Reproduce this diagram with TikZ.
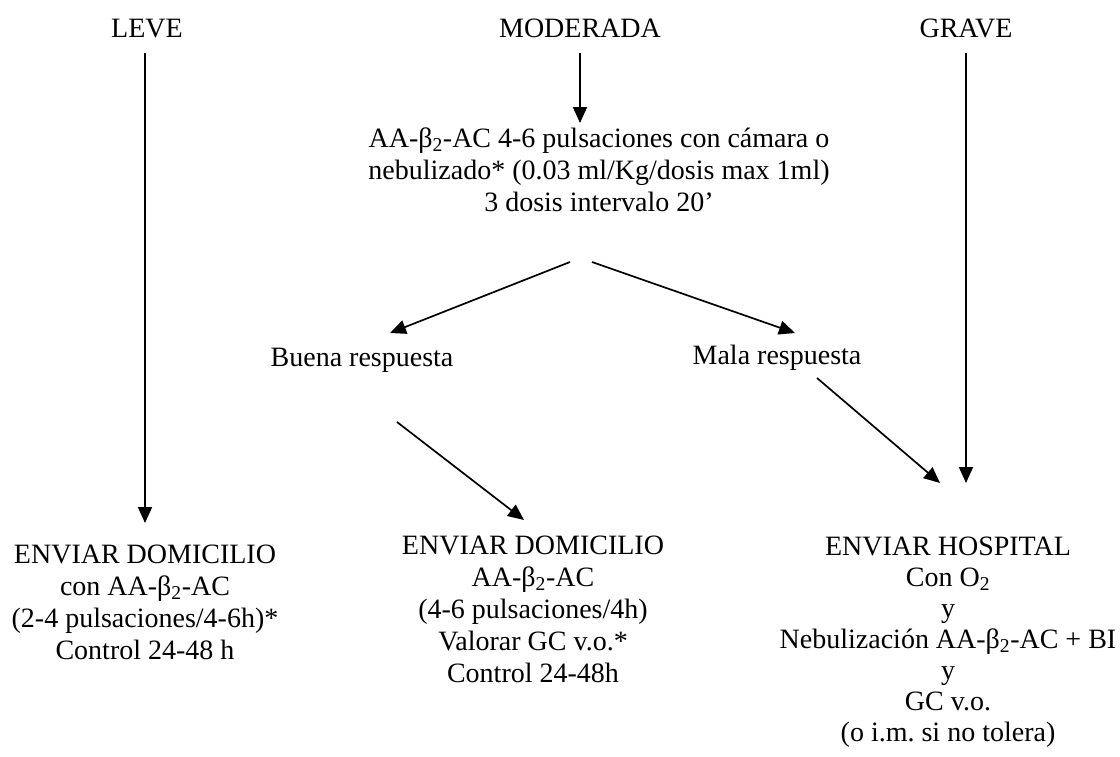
\documentclass[tikz,border=0pt]{standalone}
\usepackage{fontspec}
\setmainfont{Liberation Serif}
\usetikzlibrary{arrows.meta}
\frenchspacing
\begin{document}
\begin{tikzpicture}[x=1pt,y=-1pt,
  txt/.style={inner sep=0pt, anchor=north, align=center,
    font=\fontsize{28}{32}\selectfont\frenchspacing, execute at begin node={\strut}},
  txtr/.style={txt, font=\fontsize{28}{31}\selectfont\frenchspacing},
  arr/.style={line width=1.7pt, -{Triangle[length=16pt,width=14pt]}}]
\useasboundingbox (0,0) rectangle (1120,756);
% headings (top of strut = baseline - 22.4)
\node[txt] (leve) at (147,14.6) {LEVE};
\node[txt] (mod) at (580,14.6) {MODERADA};
\node[txt] (grave) at (966,14.6) {GRAVE};
% moderada treatment
\node[txt] (trat) at (599,127.6) {AA-β\textsubscript{2}-AC 4-6 pulsaciones con cámara o\\nebulizado* (0.03 ml/Kg/dosis max 1ml)\\3 dosis intervalo 20’};
% responses
\node[txt] (buena) at (362,343.6) {Buena respuesta};
\node[txt] (mala) at (777,341.6) {Mala respuesta};
% outcomes
\node[txt] (domL) at (145,544.6) {ENVIAR DOMICILIO\\con AA-β\textsubscript{2}-AC\\(2-4 pulsaciones/4-6h)*\\Control 24-48 h};
\node[txt] (domM) at (533,535.6) {ENVIAR DOMICILIO\\AA-β\textsubscript{2}-AC\\(4-6 pulsaciones/4h)\\Valorar GC v.o.*\\Control 24-48h};
\node[txtr] (hosp) at (948,536.3) {ENVIAR HOSPITAL\\Con O\textsubscript{2}\\y\\Nebulización AA-β\textsubscript{2}-AC + BI\\y\\GC v.o.\\(o i.m. si no tolera)};
% connector end points
\coordinate (leveA) at (145,53);
\coordinate (leveB) at (145,523);
\coordinate (modA) at (580,53);
\coordinate (modB) at (580,123);
\coordinate (graveA) at (966,53);
\coordinate (graveB) at (966,483);
\coordinate (tratL) at (570,262);
\coordinate (tratR) at (592,262);
\coordinate (buenaT) at (390,333);
\coordinate (malaT) at (795,333);
\coordinate (buenaB) at (397,422);
\coordinate (domMT) at (524,520);
\coordinate (malaB) at (817,378);
\coordinate (hospT) at (940,483);
% connectors
\draw[arr] (leveA) -- (leveB);
\draw[arr] (modA) -- (modB);
\draw[arr] (graveA) -- (graveB);
\draw[arr] (tratL) -- (buenaT);
\draw[arr] (tratR) -- (malaT);
\draw[arr] (buenaB) -- (domMT);
\draw[arr] (malaB) -- (hospT);
\end{tikzpicture}
\end{document}
